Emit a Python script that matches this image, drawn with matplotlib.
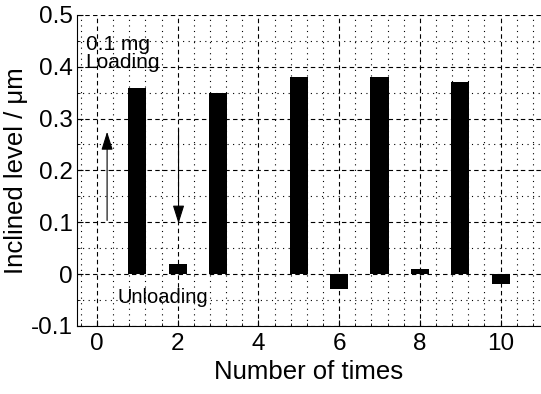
import matplotlib.pyplot as plt
from matplotlib.ticker import MultipleLocator

plt.rcParams['font.family'] = ['Liberation Sans', 'DejaVu Sans']

# 数据
times = [1, 2, 3, 5, 6, 7, 8, 9, 10]
levels = [0.36, 0.02, 0.35, 0.38, -0.029, 0.38, 0.01, 0.37, -0.019]

fig = plt.figure(figsize=(5.41, 3.94), dpi=100)
ax = fig.add_axes([0.142, 0.173, 0.858, 0.789])

ax.bar(times, levels, width=0.45, color='black', zorder=3)

ax.set_xlim(-0.5, 11)
ax.set_ylim(-0.1, 0.5)
ax.xaxis.set_major_locator(MultipleLocator(2))
ax.xaxis.set_minor_locator(MultipleLocator(0.4))
ax.yaxis.set_major_locator(MultipleLocator(0.1))
ax.yaxis.set_minor_locator(MultipleLocator(0.05))
ax.set_yticks([-0.1, 0, 0.1, 0.2, 0.3, 0.4, 0.5])
ax.set_yticklabels(['-0.1', '0', '0.1', '0.2', '0.3', '0.4', '0.5'])

ax.grid(which='major', color='black', linestyle=(0, (4, 3)), linewidth=0.8)
ax.grid(which='minor', color='black', linestyle=(0, (1, 4)), linewidth=0.8)
ax.set_axisbelow(True)

ax.spines['top'].set_visible(False)
ax.spines['right'].set_visible(False)
ax.tick_params(which='major', direction='in', length=4, labelsize=17.5)
ax.tick_params(which='minor', direction='in', length=2)
ax.tick_params(axis='x', pad=5)
ax.tick_params(axis='y', pad=3)

ax.set_xlabel('Number of times', fontsize=18.5, labelpad=4)
ax.set_ylabel('Inclined level / μm', fontsize=18.5, labelpad=2)

# 箭头和文字
arrow = dict(arrowstyle='-|>,head_length=0.7,head_width=0.22', color='black',
             lw=0.8, mutation_scale=16)
ax.annotate('', xy=(0.25, 0.28), xytext=(0.25, 0.098), arrowprops=arrow)
ax.annotate('', xy=(2.02, 0.092), xytext=(2.02, 0.285), arrowprops=arrow)
ax.text(-0.28, 0.462, '0.1 mg\nLoading', fontsize=15, va='top', ha='left', linespacing=0.95)
ax.text(0.5, -0.046, 'Unloading', fontsize=14.5, va='center', ha='left')

fig.savefig('out.png', dpi=100)
